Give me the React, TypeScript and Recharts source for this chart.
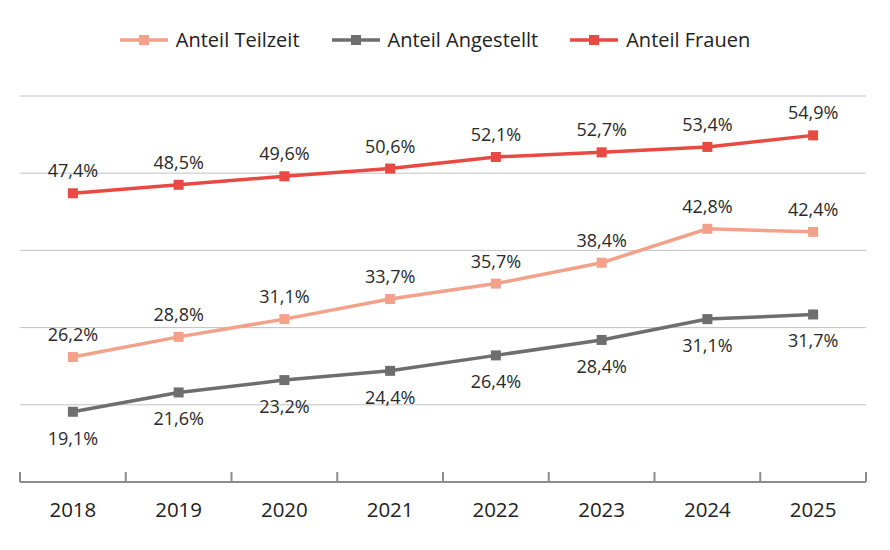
import React from "react";
import { LineChart, Line, XAxis, YAxis, CartesianGrid, LabelList } from "recharts";

const years = ["2018", "2019", "2020", "2021", "2022", "2023", "2024", "2025"];
const teilzeit = [26.2, 28.8, 31.1, 33.7, 35.7, 38.4, 42.8, 42.4];
const angestellt = [19.1, 21.6, 23.2, 24.4, 26.4, 28.4, 31.1, 31.7];
const frauen = [47.4, 48.5, 49.6, 50.6, 52.1, 52.7, 53.4, 54.9];
const yTicks = [10, 20, 30, 40, 50, 60];

const data = years.map((y, i) => ({
  year: y,
  teilzeit: teilzeit[i],
  angestellt: angestellt[i],
  frauen: frauen[i],
}));

const FONT = "'Open Sans', 'Noto Sans', sans-serif";
const C_TEIL = "#F4A18B";
const C_ANG = "#6E6E6E";
const C_FRAU = "#E84A43";
const AXIS = "#8C8C8C";

const W = 890;
const H = 550;
const XAXIS_H = 30;
const M = { top: 96, right: 24, bottom: 68 - XAXIS_H, left: 20 };
const HALF_BAND = (W - M.left - M.right) / years.length / 2;

const fmt = (v: number) => v.toFixed(1).replace(".", ",") + "%";

const squareDot = (color: string) => (props: any) => {
  const { cx, cy, index } = props;
  if (cx == null || cy == null) return <g key={`d-${index}`} />;
  return <rect key={`d-${index}`} x={cx - 5} y={cy - 5} width={10} height={10} fill={color} />;
};

const makeLabel = (dy: number) => (props: any) => {
  const { x, y, value, index } = props;
  return (
    <text
      key={`l-${index}`}
      x={x}
      y={y + dy}
      textAnchor="middle"
      dominantBaseline="central"
      fontFamily={FONT}
      fontSize={18}
      fill="#2a2a2a"
    >
      {fmt(value)}
    </text>
  );
};

const XTick = (props: any) => {
  const { x, y, payload, index } = props;
  const half = HALF_BAND;
  const axisY = y;
  return (
    <g>
      <line x1={x - half} x2={x - half} y1={axisY - 10} y2={axisY} stroke={AXIS} strokeWidth={2} />
      {index === years.length - 1 && (
        <line x1={x + half} x2={x + half} y1={axisY - 10} y2={axisY} stroke={AXIS} strokeWidth={2} />
      )}
      <text
        x={x}
        y={axisY + 27}
        textAnchor="middle"
        dominantBaseline="central"
        fontFamily={FONT}
        fontSize={20.5}
        fill="#222"
      >
        {payload.value}
      </text>
    </g>
  );
};

const legendItems = [
  { name: "Anteil Teilzeit", color: C_TEIL },
  { name: "Anteil Angestellt", color: C_ANG },
  { name: "Anteil Frauen", color: C_FRAU },
];

function LegendBar() {
  return (
    <div
      style={{
        position: "absolute",
        left: 0,
        top: 26,
        width: W - 20,
        display: "flex",
        justifyContent: "center",
        alignItems: "center",
        gap: 32,
        fontFamily: FONT,
        fontSize: 20,
        lineHeight: "28px",
        color: "#222",
      }}
    >
      {legendItems.map((it) => (
        <div key={it.name} style={{ display: "flex", alignItems: "center", gap: 8 }}>
          <svg width={48} height={12}>
            <line x1={0} x2={48} y1={6} y2={6} stroke={it.color} strokeWidth={3.5} />
            <rect x={19} y={1} width={10} height={10} fill={it.color} />
          </svg>
          <span>{it.name}</span>
        </div>
      ))}
    </div>
  );
}

export default function App() {
  return (
    <div style={{ position: "absolute", left: 0, top: 0, width: W, height: H, background: "#fff" }}>
      <LegendBar />
      <div style={{ position: "absolute", left: 0, top: 0 }}>
        <LineChart width={W} height={H} data={data} margin={M}>
          <CartesianGrid vertical={false} stroke="#C2C2C2" strokeWidth={1} />
          <YAxis hide domain={[10, 60]} ticks={yTicks} type="number" />
          <XAxis
            dataKey="year"
            height={XAXIS_H}
            padding={{ left: HALF_BAND, right: HALF_BAND }}
            axisLine={{ stroke: AXIS, strokeWidth: 2 }}
            tickLine={false}
            tickSize={0}
            tickMargin={0}
            tick={<XTick />}
            interval={0}
          />
          <Line
            dataKey="teilzeit"
            stroke={C_TEIL}
            strokeWidth={3.5}
            dot={squareDot(C_TEIL)}
            activeDot={false}
            isAnimationActive={false}
          >
            <LabelList dataKey="teilzeit" content={makeLabel(-23)} />
          </Line>
          <Line
            dataKey="angestellt"
            stroke={C_ANG}
            strokeWidth={3.5}
            dot={squareDot(C_ANG)}
            activeDot={false}
            isAnimationActive={false}
          >
            <LabelList dataKey="angestellt" content={makeLabel(26)} />
          </Line>
          <Line
            dataKey="frauen"
            stroke={C_FRAU}
            strokeWidth={3.5}
            dot={squareDot(C_FRAU)}
            activeDot={false}
            isAnimationActive={false}
          >
            <LabelList dataKey="frauen" content={makeLabel(-23)} />
          </Line>
        </LineChart>
      </div>
    </div>
  );
}
